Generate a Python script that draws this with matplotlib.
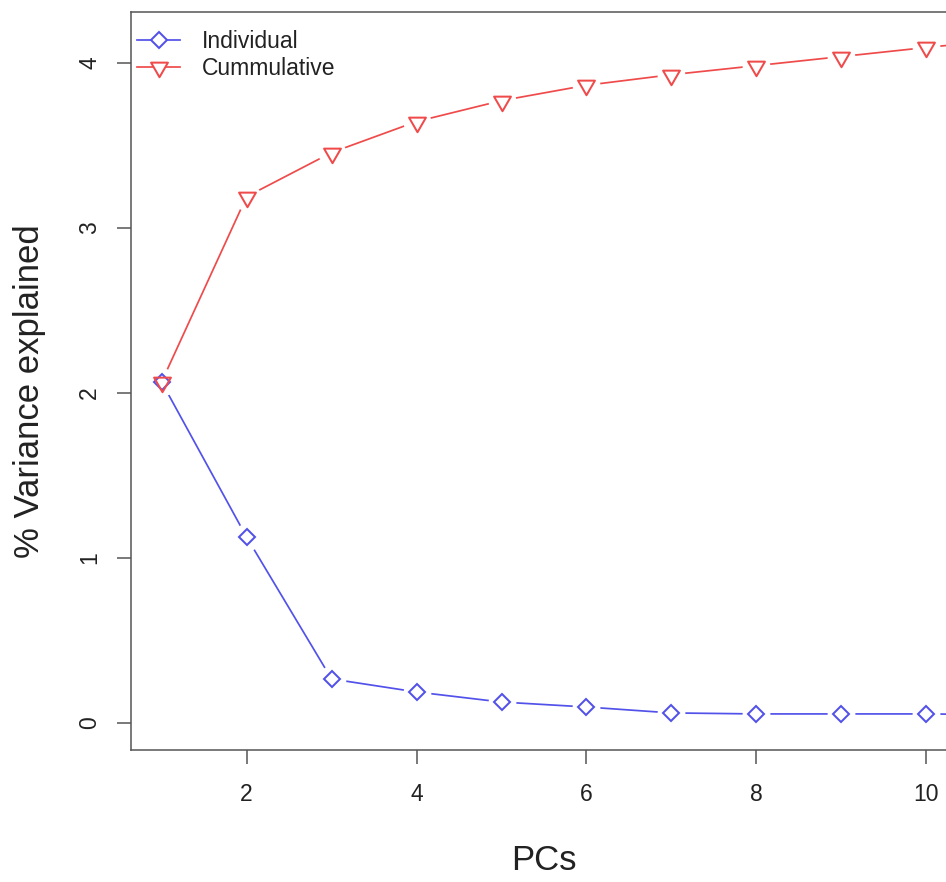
import matplotlib
matplotlib.use('Agg')
import matplotlib.pyplot as plt
from matplotlib.path import Path

# ---- data ----
pcs = [1, 2, 3, 4, 5, 6, 7, 8, 9, 10, 11]
individual = [2.067, 1.127, 0.267, 0.188, 0.127, 0.097, 0.061, 0.055, 0.055, 0.055, 0.050]
cumulative = [2.067, 3.190, 3.457, 3.645, 3.772, 3.865, 3.929, 3.984, 4.039, 4.094, 4.145]
series_labels = ['Individual', 'Cummulative']
x_ticks = [2, 4, 6, 8, 10]
y_ticks = [0, 1, 2, 3, 4]
x_label = 'PCs'
y_label = '% Variance explained'

# ---- style ----
plt.rcParams['font.family'] = ['Liberation Sans', 'DejaVu Sans']
blue = '#5252ea'
red = '#ef4b4b'
frame = '#555555'
txt = '#222222'

W, H = 946, 882
fig = plt.figure(figsize=(W / 100, H / 100), dpi=100)
left, right, top, bottom = 131, 957, 12, 750
ax = fig.add_axes([left / W, (H - bottom) / H, (right - left) / W, (bottom - top) / H])
ax.set_xlim(0.64, 10.36)
ax.set_ylim(-0.1636, 4.309)

tri_down = Path([(-0.866, 0.5), (0.866, 0.5), (0.0, -1.0), (-0.866, 0.5)],
                [Path.MOVETO, Path.LINETO, Path.LINETO, Path.CLOSEPOLY])

lw = 1.25
ms_d, ms_t, mew = 8.2, 14.0, 1.45
# lines
ax.plot(pcs, individual, color=blue, lw=lw, zorder=2)
ax.plot(pcs, cumulative, color=red, lw=lw, zorder=2)
# gaps around points (R type="b")
ax.plot(pcs, individual, ls='none', marker='o', ms=20, mfc='white', mec='none', zorder=3)
ax.plot(pcs, cumulative, ls='none', marker='o', ms=20, mfc='white', mec='none', zorder=3)
# markers
ax.plot(pcs, individual, ls='none', marker='D', ms=ms_d, mfc='none', mec=blue, mew=mew, zorder=4)
ax.plot(pcs, cumulative, ls='none', marker=tri_down, ms=ms_t, mfc='none', mec=red, mew=mew, zorder=4)

# legend handles
h1, = ax.plot([], [], color=blue, lw=lw, marker='D', ms=ms_d, mfc='white', mec=blue, mew=mew)
h2, = ax.plot([], [], color=red, lw=lw, marker=tri_down, ms=ms_t, mfc='white', mec=red, mew=mew)
leg = ax.legend([h1, h2], series_labels, loc='upper left',
                bbox_to_anchor=(6 / 826, 1 - 18.5 / 738), borderaxespad=0, borderpad=0,
                frameon=False, fontsize=16.5, handlelength=1.88, handletextpad=0.95,
                labelspacing=0.17, numpoints=1)
for t in leg.get_texts():
    t.set_color(txt)

# axes styling
for s in ax.spines.values():
    s.set_color(frame)
    s.set_linewidth(1.1)
ax.set_xticks(x_ticks)
ax.set_yticks(y_ticks)
ax.tick_params(axis='both', direction='out', length=10, width=1.1, color=frame,
               labelsize=16.5, labelcolor=txt, pad=13.5)
ax.tick_params(axis='y', pad=11.5)
for lab in ax.get_yticklabels():
    lab.set_rotation(90)
    lab.set_va('center')

ax.set_xlabel(x_label, fontsize=25, color=txt)
ax.xaxis.set_label_coords(0.5, (bottom - 861) / (bottom - top))
ax.xaxis.label.set_verticalalignment('center')
ax.set_ylabel(y_label, fontsize=25, color=txt)
ax.yaxis.set_label_coords((29 - left) / (right - left), 0.486)
ax.yaxis.label.set_verticalalignment('center')
ax.yaxis.label.set_horizontalalignment('center')

fig.savefig('out.png', dpi=100)
